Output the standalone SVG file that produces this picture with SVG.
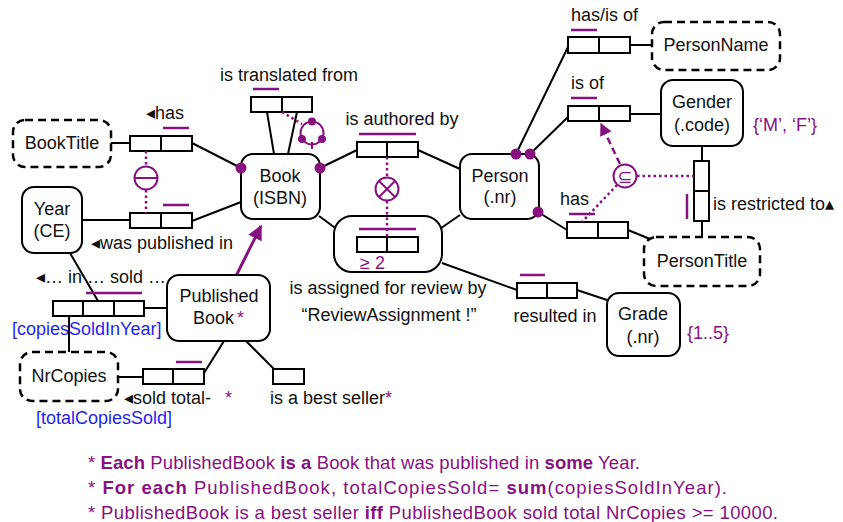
<svg xmlns="http://www.w3.org/2000/svg" width="843" height="522" viewBox="0 0 843 522">
<style>
text{font-family:"Liberation Sans",Arial,sans-serif;font-size:18px;fill:#111}
.c{text-anchor:middle}
.p{fill:#86117f}
.b{fill:#1f1ff0}
.ent{fill:#fff;stroke:#000;stroke-width:2}
.val{fill:#fff;stroke:#000;stroke-width:2.5;stroke-dasharray:8 5}
.role{fill:#fff;stroke:#000;stroke-width:2}
.ln{stroke:#000;stroke-width:2;fill:none}
.uc{stroke:#86117f;stroke-width:2.5}
.dot{stroke:#86117f;stroke-width:2.5;stroke-dasharray:2.5 3;fill:none}
.cst{stroke:#86117f;stroke-width:2;fill:#fff}
.mand{fill:#86117f}
.fn{font-size:18.5px;fill:#86117f}
.bd{font-weight:bold}
</style>
<defs>
<marker id="sub" viewBox="0 0 10 10" refX="9" refY="5" markerWidth="5" markerHeight="5" orient="auto">
<path d="M0,0 L10,5 L0,10 z" fill="#86117f"/>
</marker>
<marker id="subs" viewBox="0 0 10 10" refX="9" refY="5" markerWidth="5" markerHeight="5" orient="auto">
<path d="M0,0 L10,5 L0,10 z" fill="#86117f"/>
</marker>
</defs>

<g id="connectors">
<line class="ln" x1="111" y1="143" x2="130" y2="143"/>
<line class="ln" x1="192" y1="143" x2="241" y2="168"/>
<line class="ln" x1="82" y1="220" x2="130" y2="220"/>
<line class="ln" x1="192" y1="221" x2="241" y2="202"/>
<line class="ln" x1="267" y1="112" x2="274" y2="154"/>
<line class="ln" x1="297" y1="112" x2="288" y2="154"/>
<line class="ln" x1="320" y1="168" x2="357" y2="150"/>
<line class="ln" x1="418" y1="150" x2="460" y2="169"/>
<line class="ln" x1="319" y1="216" x2="357" y2="244"/>
<line class="ln" x1="418" y1="244" x2="460" y2="215"/>
<line class="ln" x1="442" y1="263" x2="517" y2="290"/>
<line class="ln" x1="577" y1="290" x2="607" y2="300"/>
<line class="ln" x1="516" y1="154" x2="568" y2="47"/>
<line class="ln" x1="630" y1="45" x2="652" y2="45"/>
<line class="ln" x1="530" y1="154" x2="568" y2="117"/>
<line class="ln" x1="630" y1="114" x2="661" y2="114"/>
<line class="ln" x1="538" y1="212" x2="567" y2="230"/>
<line class="ln" x1="628" y1="230" x2="650" y2="239"/>
<line class="ln" x1="702" y1="146" x2="702" y2="161"/>
<line class="ln" x1="702" y1="221" x2="702" y2="237"/>
<line class="ln" x1="70" y1="253" x2="98" y2="301"/>
<line class="ln" x1="69" y1="316" x2="69" y2="352"/>
<line class="ln" x1="144" y1="308" x2="167" y2="308"/>
<line class="ln" x1="118" y1="377" x2="143" y2="377"/>
<line class="ln" x1="204" y1="373" x2="224" y2="341"/>
<line class="ln" x1="246" y1="341" x2="274" y2="369"/>
<line x1="236" y1="276" x2="261" y2="226" stroke="#86117f" stroke-width="3" marker-end="url(#sub)"/>
</g>

<g id="BookTitle"><rect class="val" x="13" y="120" width="98" height="47" rx="12"/><text class="c" x="62" y="149">BookTitle</text></g>
<g id="Year"><rect class="ent" x="22" y="187" width="60" height="66" rx="12"/><text class="c" x="52" y="215">Year</text><text class="c" x="52" y="237">(CE)</text></g>
<g id="Book"><rect class="ent" x="241" y="154" width="79" height="65" rx="12"/><text class="c" x="280" y="182">Book</text><text class="c" x="280" y="204">(ISBN)</text></g>
<g id="Person"><rect class="ent" x="460" y="154" width="79" height="65" rx="12"/><text class="c" x="500" y="182">Person</text><text class="c" x="500" y="203">(.nr)</text></g>
<g id="PersonName"><rect class="val" x="652" y="22" width="128" height="48" rx="12"/><text class="c" x="716" y="51">PersonName</text></g>
<g id="Gender"><rect class="ent" x="661" y="80" width="82" height="66" rx="12"/><text class="c" x="702" y="108">Gender</text><text class="c" x="702" y="131">(.code)</text><text class="p" x="753" y="131">{‘M’, ‘F’}</text></g>
<g id="PersonTitle"><rect class="val" x="644" y="237" width="116" height="49" rx="12"/><text class="c" x="702" y="267">PersonTitle</text></g>
<g id="Grade"><rect class="ent" x="607" y="293" width="73" height="63" rx="12"/><text class="c" x="643" y="320">Grade</text><text class="c" x="643" y="343">(.nr)</text><text class="p" x="687" y="339">{1..5}</text></g>
<g id="PublishedBook"><rect class="ent" x="167" y="275" width="103" height="66" rx="12"/><text class="c" x="219" y="302">Published</text><text x="193" y="324">Book<tspan class="p" dx="3">*</tspan></text></g>
<g id="NrCopies"><rect class="val" x="20" y="352" width="98" height="49" rx="12"/><text class="c" x="69" y="382">NrCopies</text></g>
<g id="ReviewAssignment"><rect class="ent" x="334" y="216" width="108" height="56" rx="18"/><text class="p" x="360" y="269">≥ 2</text><text class="c" x="388" y="294">is assigned for review by</text><text class="c" x="389" y="321">“ReviewAssignment !”</text></g>

<g id="ft-has-title"><rect class="role" x="130" y="136" width="31" height="15"/><rect class="role" x="161" y="136" width="31" height="15"/><line class="uc" x1="163" y1="128" x2="189" y2="128"/><text x="146" y="119">◂has</text></g>
<g id="ft-published-in"><rect class="role" x="130" y="213" width="31" height="15"/><rect class="role" x="161" y="213" width="31" height="15"/><line class="uc" x1="163" y1="205" x2="189" y2="205"/><text x="91" y="249">◂was published in</text></g>
<g id="ft-translated"><rect class="role" x="251" y="97" width="31" height="15"/><rect class="role" x="282" y="97" width="30" height="15"/><line class="uc" x1="253" y1="89" x2="279" y2="89"/><text class="c" x="289" y="81">is translated from</text></g>
<g id="ft-authored"><rect class="role" x="357" y="142" width="30" height="15"/><rect class="role" x="387" y="142" width="31" height="15"/><line class="uc" x1="359" y1="134" x2="416" y2="134"/><text class="c" x="402" y="125">is authored by</text></g>
<g id="ft-review"><rect class="role" x="357" y="237" width="30" height="15"/><rect class="role" x="387" y="237" width="31" height="15"/><line class="uc" x1="359" y1="229" x2="416" y2="229"/></g>
<g id="ft-resulted"><rect class="role" x="517" y="283" width="30" height="15"/><rect class="role" x="547" y="283" width="30" height="15"/><line class="uc" x1="520" y1="275" x2="545" y2="275"/><text class="c" x="555" y="322">resulted in</text></g>
<g id="ft-name"><rect class="role" x="568" y="37" width="31" height="16"/><rect class="role" x="599" y="37" width="31" height="16"/><line class="uc" x1="571" y1="30" x2="597" y2="30"/><text x="571" y="21">has/is of</text></g>
<g id="ft-gender"><rect class="role" x="568" y="106" width="31" height="15"/><rect class="role" x="599" y="106" width="31" height="15"/><line class="uc" x1="571" y1="98" x2="597" y2="98"/><text x="571" y="89">is of</text></g>
<g id="ft-title"><rect class="role" x="567" y="222" width="31" height="16"/><rect class="role" x="598" y="222" width="30" height="16"/><line class="uc" x1="569" y1="214" x2="595" y2="214"/><text x="560" y="205">has</text></g>
<g id="ft-restricted"><rect class="role" x="694" y="161" width="15" height="30"/><rect class="role" x="694" y="191" width="15" height="30"/><line class="uc" x1="687" y1="194" x2="687" y2="219"/><text x="713" y="210">is restricted to▴</text></g>
<g id="ft-sold"><rect class="role" x="53" y="301" width="30" height="15"/><rect class="role" x="83" y="301" width="31" height="15"/><rect class="role" x="114" y="301" width="30" height="15"/><line class="uc" x1="86" y1="293" x2="142" y2="293"/><text x="36" y="283">◂… in … sold …</text><text class="b" x="12" y="335">[copiesSoldInYear]</text></g>
<g id="ft-total"><rect class="role" x="143" y="369" width="30" height="15"/><rect class="role" x="173" y="369" width="31" height="15"/><line class="uc" x1="176" y1="362" x2="202" y2="362"/><text x="124" y="404">◂sold total-<tspan class="p" x="225">*</tspan></text><text class="b" x="36" y="424">[totalCopiesSold]</text></g>
<g id="ft-bestseller"><rect class="role" x="273" y="369" width="31" height="15"/><text x="270" y="404">is a best seller<tspan class="p">*</tspan></text></g>

<g id="constraints">
<line class="dot" x1="146" y1="151" x2="146" y2="166"/>
<line class="dot" x1="146" y1="190" x2="146" y2="213"/>
<circle class="cst" cx="146" cy="178" r="11.5"/>
<line class="uc" x1="134.5" y1="178" x2="157.5" y2="178" style="stroke-width:2"/>

<line class="dot" x1="282" y1="112" x2="302" y2="124"/>
<circle cx="312" cy="133" r="11.5" fill="none" stroke="#86117f" stroke-width="2"/>
<circle class="mand" cx="312" cy="121.5" r="4"/>
<circle class="mand" cx="302" cy="139" r="4"/>
<circle class="mand" cx="322" cy="139" r="4"/>
<line x1="312" y1="142" x2="312" y2="149" stroke="#86117f" stroke-width="2"/>

<line class="dot" x1="387" y1="157" x2="387" y2="177"/>
<line class="dot" x1="387" y1="201" x2="387" y2="237"/>
<circle class="cst" cx="387" cy="189" r="11.5"/>
<line x1="379" y1="181" x2="395" y2="197" stroke="#86117f" stroke-width="2"/>
<line x1="395" y1="181" x2="379" y2="197" stroke="#86117f" stroke-width="2"/>

<line class="dot" x1="637" y1="176" x2="694" y2="176"/>
<line class="dot" x1="617" y1="185" x2="582" y2="222"/>
<line x1="620" y1="164" x2="601" y2="124" stroke="#86117f" stroke-width="2.5" stroke-dasharray="7 4" marker-end="url(#subs)"/>
<circle class="cst" cx="625" cy="176" r="11.5"/>
<text x="625" y="182.5" class="c p" style="font-family:'DejaVu Sans',sans-serif;font-size:18px">⊆</text>

<circle class="mand" cx="241" cy="168" r="5.5"/>
<circle class="mand" cx="320" cy="168" r="5.5"/>
<circle class="mand" cx="516" cy="154" r="5.5"/>
<circle class="mand" cx="530" cy="154" r="5.5"/>
<circle class="mand" cx="538" cy="212" r="5.5"/>
</g>

<g id="footnotes">
<text class="fn" x="88" y="469" textLength="552">* <tspan class="bd">Each</tspan> PublishedBook <tspan class="bd">is a</tspan> Book that was published in <tspan class="bd">some</tspan> Year.</text>
<text class="fn" x="88" y="494" textLength="639">* <tspan class="bd">For each</tspan> PublishedBook, totalCopiesSold= <tspan class="bd">sum</tspan>(copiesSoldInYear).</text>
<text class="fn" x="88" y="519" textLength="690">* PublishedBook is a best seller <tspan class="bd">iff</tspan> PublishedBook sold total NrCopies &gt;= 10000.</text>
</g>
</svg>
